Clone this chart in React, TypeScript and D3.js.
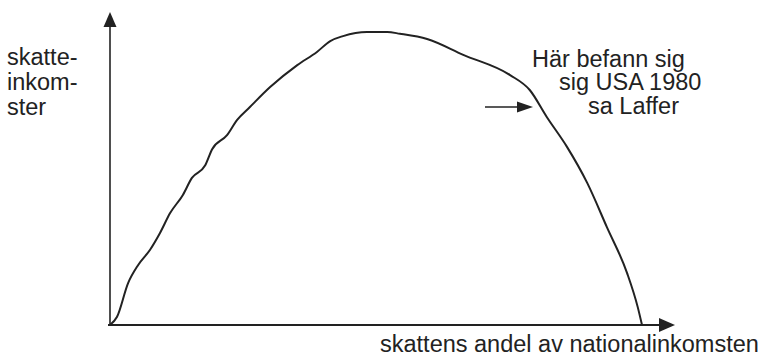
import React from 'react'
import * as d3 from 'd3'

// Laffer curve: tax share of national income (%) vs tax revenue (% of max)
const taxShare = [0, 1.3, 3.4, 5.3, 7.5, 9.4, 11.3, 13.7, 15.4, 17.9, 19.2, 22.0, 23.9, 26.3, 30.1, 35.2, 38.9, 41.4, 43.8, 48.3, 52.1, 54.5, 59.6, 66.4, 75.2, 78.9, 82.1, 85.9, 89.7, 93.4, 97.2, 99.2, 100]
const revenue = [0, 2.7, 14.3, 20.5, 25.6, 31.4, 38.2, 44.4, 50.2, 54.5, 60.0, 64.8, 70.0, 74.4, 81.2, 88.7, 93.2, 96.9, 98.6, 100, 100, 99.4, 97.6, 92.2, 85.3, 80.2, 71.0, 60.8, 48.5, 33.4, 17.7, 6.1, 0]

const yLabel = ['skatte-', 'inkom-', 'ster']
const xLabel = 'skattens andel av nationalinkomsten'
const noteLines = ['Här befann sig', 'sig USA 1980', 'sa Laffer']

const width = 767
const height = 360
const ink = '#222'
const font = '"Liberation Sans", Arial, Helvetica, sans-serif'

export default function App() {
  const x = d3.scaleLinear().domain([0, 100]).range([110, 642])
  const y = d3.scaleLinear().domain([0, 100]).range([325, 32])

  const pts: [number, number][] = taxShare.map((d, i) => [d, revenue[i]])
  const line = d3.line<[number, number]>()
    .x(d => x(d[0]))
    .y(d => y(d[1]))
    .curve(d3.curveMonotoneX)

  const x0 = x(0), y0 = y(0)
  const xEnd = x(106.2), yTop = y(106.8)

  // arrow pointing at USA 1980
  const ay = 107
  const ax1 = 485, ax2 = 533

  const noteX = [532, 559, 588]
  const noteY = [66.5, 90, 114]
  const yLabY = [65, 90, 115]

  return (
    <svg width={width} height={height} style={{ position: 'absolute', left: 0, top: 0, background: '#fff' }}>
      {/* axes */}
      <line x1={x0} y1={y0} x2={x0} y2={yTop + 14} stroke={ink} strokeWidth={1.6} />
      <path d={`M${x0},${yTop} L${x0 - 6.5},${yTop + 15} L${x0 + 6.5},${yTop + 15} Z`} fill={ink} />
      <line x1={x0 - 2} y1={y0} x2={xEnd - 15} y2={y0} stroke={ink} strokeWidth={1.8} />
      <path d={`M${xEnd},${y0} L${xEnd - 16},${y0 - 7} L${xEnd - 16},${y0 + 7} Z`} fill={ink} />

      {/* curve */}
      <path d={line(pts) ?? ''} fill="none" stroke={ink} strokeWidth={2} strokeLinejoin="round" />

      {/* annotation arrow */}
      <line x1={ax1} y1={ay} x2={ax2 - 14} y2={ay} stroke={ink} strokeWidth={1.6} />
      <path d={`M${ax2},${ay} L${ax2 - 16},${ay - 5.5} L${ax2 - 16},${ay + 5.5} Z`} fill={ink} />

      <g fontFamily={font} fontSize={23.5} fill={ink}>
        {yLabel.map((t, i) => (
          <text key={t} x={7} y={yLabY[i]}>{t}</text>
        ))}
        {noteLines.map((t, i) => (
          <text key={t} x={noteX[i]} y={noteY[i]}>{t}</text>
        ))}
        <text x={380} y={352}>{xLabel}</text>
      </g>
    </svg>
  )
}
